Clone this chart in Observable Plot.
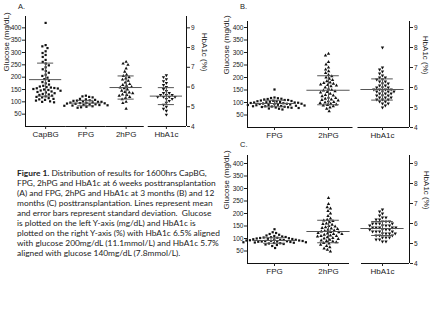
<!DOCTYPE html>
<html>
<head>
<meta charset="utf-8">
<script src="https://cdn.jsdelivr.net/npm/d3@7"></script>
<script src="https://cdn.jsdelivr.net/npm/@observablehq/plot@0.6"></script>
<style>
  html, body { margin: 0; padding: 0; background: #fff; }
  #root { position: relative; width: 431px; height: 323px; overflow: hidden; background: #fff; }
  .pn { position: absolute; }
  .ttl { position: absolute; font-family: "Liberation Sans", Arial, sans-serif; font-size: 7.5px; line-height: 8px; color: #222; }
  #cap { position: absolute; left: 17px; top: 168px; font-family: Lato, "Open Sans", sans-serif; font-size: 8.4px; line-height: 10px; color: #222; white-space: nowrap; }
</style>
</head>
<body>
<div id="root">
  <div class="ttl" style="left:18px;top:3px">A.</div>
  <div class="ttl" style="left:240px;top:3px">B.</div>
  <div class="ttl" style="left:240px;top:141px">C.</div>
  <div class="pn" id="pA" style="left:0px;top:0px"></div>
  <div class="pn" id="pB" style="left:215px;top:0px"></div>
  <div class="pn" id="pC" style="left:215px;top:140px"></div>
  <div id="cap"><b>Figure 1.</b> Distribution of results for 1600hrs CapBG,<br>FPG, 2hPG and HbA1c at 6 weeks posttransplantation<br>(A) and FPG, 2hPG and HbA1c at 3 months (B) and 12<br>months (C) posttransplantation. Lines represent mean<br>and error bars represent standard deviation.&nbsp; Glucose<br>is plotted on the left Y-axis (mg/dL) and HbA1c is<br>plotted on the right Y-axis (%) with HbA1c 6.5% aligned<br>with glucose 200mg/dL (11.1mmol/L) and HbA1c 5.7%<br>aligned with glucose 140mg/dL (7.8mmol/L).</div>
</div>
<script>
// ---- categories and tick labels ----
const catsA = ["CapBG", "FPG", "2hPG", "HbA1c"];
const catsBC = ["FPG", "2hPG", "HbA1c"];
const glucoseTicks = [50, 100, 150, 200, 250, 300, 350, 400];
const hba1cTicks = [4, 5, 6, 7, 8, 9];
const yLabel = "Glucose (mg/dL)";
const hbLabel = "HbA1c (%)";

// ---- Panel A (6 weeks) ----
const capbgA = [420, 330, 325, 318, 305, 298, 290, 282, 270, 262, 255, 248, 240, 232, 225, 218, 210, 205, 198, 192, 185, 180, 175, 170, 165, 162, 160, 158, 156, 155, 154, 152, 150, 148, 146, 145, 142, 140, 138, 135, 132, 130, 128, 125, 122, 120, 118, 115, 112, 110, 108, 105, 102, 100, 98];
const fpgA = [125, 122, 120, 118, 112, 110, 108, 106, 105, 104, 102, 100, 100, 98, 97, 96, 95, 94, 93, 92, 90, 90, 88, 87, 86, 85, 84, 82, 80, 78, 76];
const twohA = [262, 255, 250, 235, 222, 210, 205, 200, 195, 190, 185, 178, 172, 168, 165, 160, 158, 155, 150, 145, 140, 138, 135, 130, 128, 125, 120, 115, 110, 100, 95, 72];
const hbA = [6.6, 6.5, 6.4, 6.3, 6.2, 6.1, 6.0, 5.9, 5.8, 5.7, 5.7, 5.6, 5.6, 5.6, 5.5, 5.5, 5.5, 5.5, 5.4, 5.4, 5.3, 5.2, 5.1, 5.0, 4.9, 4.8, 4.6];
const meanA = [190, 95, 158, 5.54];
const sdA = [67, 11, 47, 0.43];

// ---- Panel B (3 months) ----
const fpgB = [152, 120, 118, 117, 115, 114, 112, 110, 110, 108, 107, 106, 105, 104, 103, 102, 101, 100, 100, 99, 98, 97, 96, 95, 95, 94, 93, 92, 91, 90, 90, 89, 88, 87, 86, 85, 85, 84, 83, 82, 81, 80, 79, 78, 76, 75, 72];
const twohB = [295, 288, 262, 252, 240, 232, 225, 218, 210, 205, 200, 195, 190, 185, 180, 178, 175, 172, 170, 168, 165, 160, 155, 150, 148, 145, 142, 140, 135, 130, 128, 125, 120, 118, 115, 112, 110, 108, 105, 102, 100, 98, 95, 92, 90, 88, 85, 80, 75, 65];
const hbB = [8.0, 7.0, 6.9, 6.8, 6.7, 6.6, 6.5, 6.5, 6.4, 6.4, 6.3, 6.3, 6.2, 6.2, 6.1, 6.1, 6.0, 6.0, 6.0, 5.9, 5.9, 5.9, 5.9, 5.8, 5.8, 5.8, 5.8, 5.7, 5.7, 5.7, 5.6, 5.6, 5.6, 5.5, 5.5, 5.5, 5.4, 5.4, 5.4, 5.3, 5.3, 5.2, 5.2, 5.1, 5.0];
const meanB = [96, 149, 5.9];
const sdB = [13, 58, 0.53];

// ---- Panel C (12 months) ----
const fpgC = [137, 125, 122, 118, 115, 112, 110, 108, 106, 105, 104, 103, 102, 101, 100, 99, 98, 97, 96, 95, 95, 94, 93, 92, 92, 91, 90, 90, 89, 88, 88, 87, 86, 85, 85, 84, 83, 82, 81, 80, 78, 76, 74, 70, 62];
const twohC = [262, 238, 225, 220, 210, 200, 190, 180, 175, 172, 170, 165, 160, 158, 155, 150, 148, 145, 142, 140, 138, 135, 132, 130, 128, 126, 125, 122, 120, 118, 118, 115, 112, 110, 110, 108, 105, 102, 100, 98, 95, 92, 90, 88, 85, 82, 80, 75, 70, 65, 60, 55, 48];
const hbC = [6.7, 6.6, 6.5, 6.4, 6.3, 6.3, 6.2, 6.2, 6.1, 6.1, 6.1, 6.0, 6.0, 6.0, 6.0, 5.9, 5.9, 5.9, 5.9, 5.8, 5.8, 5.8, 5.8, 5.8, 5.7, 5.7, 5.7, 5.7, 5.6, 5.6, 5.6, 5.6, 5.5, 5.5, 5.5, 5.5, 5.4, 5.4, 5.4, 5.3, 5.3, 5.3, 5.2, 5.2, 5.1, 5.1];
const meanC = [92, 128, 5.75];
const sdC = [11, 45, 0.35];

// HbA1c axis aligned with glucose axis (4% at 0, 6.5% at 200 mg/dL)
const toG = h => (h - 4) * 80;
const fromG = g => String(Math.round(g / 80 + 4));

const narrow = "'Liberation Sans Narrow', 'Arial Narrow', 'Liberation Sans', Arial, sans-serif";

function panel(cfg) {
  const {cats, series, means, sds} = cfg;
  const hb = cats.length - 1;
  const rows = cats.flatMap((c, i) => series[i].map(v => ({cat: c, g: i === hb ? toG(v) : v})));
  const stats = cats.map((c, i) => ({cat: c, mean: i === hb ? toG(means[i]) : means[i], sd: i === hb ? sds[i] * 80 : sds[i]}));
  const first = cats[0], last = cats[hb];
  const glucoseCats = cats.slice(0, hb - 1);
  const lastGlucose = cats[hb - 1];
  return Plot.plot({
    width: cfg.width, height: cfg.height,
    marginTop: cfg.mt, marginBottom: cfg.mb, marginLeft: cfg.ml, marginRight: cfg.mr,
    style: {fontFamily: "'Liberation Sans', Arial, sans-serif", color: "#222", background: "transparent", overflow: "visible"},
    fx: {domain: cats, paddingInner: 0, paddingOuter: 0, round: false},
    x: {domain: [-1, 1], axis: null},
    y: {domain: [0, cfg.yTop]},
    symbol: {domain: catsA, range: ["square", "square", "triangle", "triangle"]},
    marks: [
      // axis lines
      Plot.ruleY(glucoseCats, {fx: d => d, y: () => 0, stroke: "#111"}),
      Plot.ruleY([lastGlucose], {fx: d => d, y: () => 0, stroke: "#111", insetRight: cfg.gap}),
      Plot.ruleY([last], {fx: d => d, y: () => 0, stroke: "#111", insetLeft: cfg.gap}),
      Plot.ruleX([first], {fx: d => d, x: () => -1, stroke: "#111"}),
      Plot.ruleX([last], {fx: d => d, x: () => 1, stroke: "#111"}),
      // points
      Plot.dot(rows, Plot.dodgeX("middle", {fx: "cat", y: "g", r: 1.25, symbol: "cat", rotate: d => d.cat === "HbA1c" ? 180 : 0, fill: "#111", stroke: "none", padding: 0.35})),
      // mean and SD
      Plot.ruleY(stats, {fx: "cat", y: "mean", x1: -0.8, x2: 0.8, stroke: "#555", strokeWidth: 1}),
      Plot.ruleY(stats, {fx: "cat", y: d => d.mean + d.sd, x1: -0.4, x2: 0.4, stroke: "#555", strokeWidth: 1}),
      Plot.ruleY(stats, {fx: "cat", y: d => d.mean - d.sd, x1: -0.4, x2: 0.4, stroke: "#555", strokeWidth: 1}),
      Plot.ruleX(stats, {fx: "cat", x: 0, y1: d => d.mean - d.sd, y2: d => d.mean + d.sd, stroke: "#555", strokeWidth: 1}),
      // axes
      Plot.axisY({anchor: "left", ticks: glucoseTicks, tickSize: 3, tickPadding: 1, label: null, fontSize: 6.5, fontFamily: narrow}),
      Plot.axisY({anchor: "right", ticks: hba1cTicks.map(toG), tickFormat: fromG, tickSize: 3, tickPadding: 1.5, label: null, fontSize: 6.5, fontFamily: narrow}),
      Plot.axisFx({anchor: "bottom", tickSize: 3, tickPadding: 1.5, label: null, fontSize: 8}),
      Plot.text([first], {fx: d => d, text: () => yLabel, frameAnchor: "left", rotate: -90, dx: cfg.ldx, fontSize: 8, fill: "#222"}),
      Plot.text([last], {fx: d => d, text: () => hbLabel, frameAnchor: "right", rotate: 90, dx: cfg.rdx, fontSize: 8, fill: "#222"})
    ]
  });
}

document.getElementById("pA").append(panel({
  cats: catsA, series: [capbgA, fpgA, twohA, hbA], means: meanA, sds: sdA,
  width: 215, height: 140, mt: 16, mb: 14, ml: 25, mr: 29, yTop: 446, gap: 2, ldx: -19.5, rdx: 18
}));
document.getElementById("pB").append(panel({
  cats: catsBC, series: [fpgB, twohB, hbB], means: meanB, sds: sdB,
  width: 216, height: 141, mt: 21, mb: 14, ml: 32, mr: 22, yTop: 424, gap: 2.5, ldx: -21.5, rdx: 16.5
}));
document.getElementById("pC").append(panel({
  cats: catsBC, series: [fpgC, twohC, hbC], means: meanC, sds: sdC,
  width: 216, height: 140, mt: 15, mb: 17, ml: 32, mr: 22, yTop: 432, gap: 6, ldx: -21.5, rdx: 17
}));
</script>
</body>
</html>
